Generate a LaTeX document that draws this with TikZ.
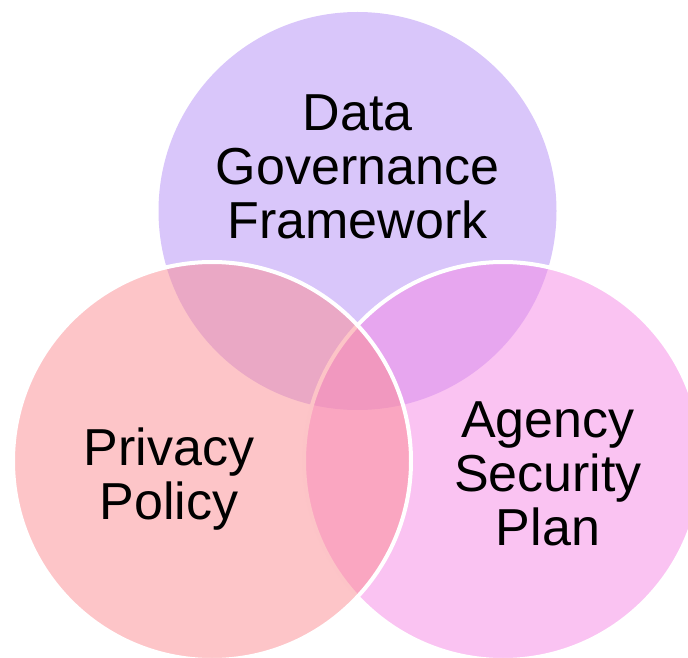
\documentclass[tikz,border=0pt]{standalone}
\usepackage{fontspec}
\setmainfont{Liberation Sans}
\definecolor{topc}{RGB}{217,198,250}
\definecolor{leftc}{RGB}{251,139,145}
\definecolor{rightc}{RGB}{245,135,229}
\begin{document}
\begin{tikzpicture}[x=1pt,y=1pt,
  venn/.style={circle, minimum size=398pt, inner sep=0pt},
  ring/.style={venn, draw=white, line width=4pt, fill opacity=0.5, draw opacity=1},
  lbl/.style={align=center, inner sep=0pt, text=black, font=\fontsize{52}{54}\selectfont}]
\clip (0,0) rectangle (688,657);
\node[venn, fill=topc] (top) at (357.5,446) {};
\node[ring, fill=rightc] (right) at (503,196) {};
\node[ring, fill=leftc] (left) at (212,196) {};
\node[lbl, anchor=north] (tl) at (357.5,562) {Data\\Governance\\Framework};
\node[lbl, anchor=north] (ll) at (169,229) {Privacy\\Policy};
\node[lbl, anchor=north] (rl) at (548,255) {Agency\\Security\\Plan};
\end{tikzpicture}
\end{document}
